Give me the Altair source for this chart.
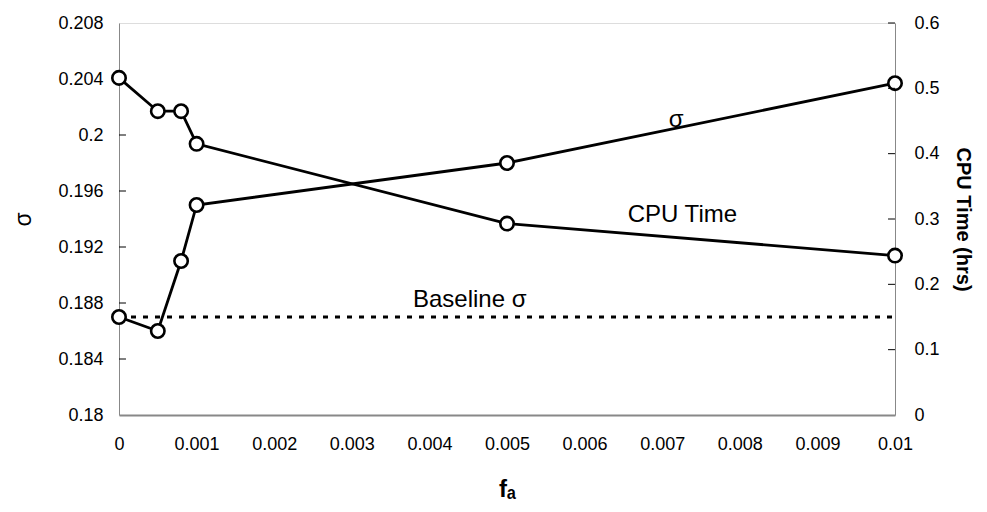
import altair as alt
import pandas as pd

# ---- data ----
fa = [0, 0.0005, 0.0008, 0.001, 0.005, 0.01]
sigma = [0.187, 0.186, 0.191, 0.195, 0.198, 0.2037]
cpu_hrs = [0.516, 0.465, 0.465, 0.415, 0.293, 0.244]

baseline_fa = [0, 0.01]
baseline_sigma = [0.187, 0.187]

x_ticks = [0, 0.001, 0.002, 0.003, 0.004, 0.005, 0.006, 0.007, 0.008, 0.009, 0.01]
sigma_ticks = [0.18, 0.184, 0.188, 0.192, 0.196, 0.2, 0.204, 0.208]
cpu_ticks = [0, 0.1, 0.2, 0.3, 0.4, 0.5, 0.6]

note_text = ["σ", "CPU Time", "Baseline σ"]
note_fa = [0.00718, 0.00726, 0.00452]
note_sigma = [0.2011, 0.1943, 0.1882]

FONT = "Liberation Sans"
TICK_LEN_X = 0.00009  # inward tick length in x units

df = pd.DataFrame({"fa": fa, "sigma": sigma, "cpu": cpu_hrs})
base_df = pd.DataFrame({"fa": baseline_fa, "sigma": baseline_sigma})
notes_df = pd.DataFrame({"fa": note_fa, "sigma": note_sigma, "t": note_text})
lt_df = pd.DataFrame({"v": sigma_ticks[1:-1], "x0": 0.0, "x1": TICK_LEN_X})
rt_df = pd.DataFrame({"v": cpu_ticks[1:], "x0": 0.01 - TICK_LEN_X, "x1": 0.01})

x_scale = alt.Scale(domain=[0, 0.01], nice=False, zero=False)
x_axis = alt.Axis(
    values=x_ticks, format=".3~f", title="fₐ", ticks=False, grid=False,
    labelPadding=20, titlePadding=24, domainWidth=2,
    labelFontSize=18, titleFontSize=24, titleFontWeight="bold",
    labelFlush=False,
)


def xe(field):
    return alt.X(f"{field}:Q", scale=x_scale, axis=x_axis)


y_left_scale = alt.Scale(domain=[0.18, 0.208], nice=False, zero=False)
y_left_axis = alt.Axis(
    values=sigma_ticks, format=".3~f", title="σ", ticks=False, grid=False,
    labelPadding=16, titlePadding=22, domainWidth=1,
    labelFontSize=18, titleFontSize=23, titleFontWeight="normal",
    labelFlush=False,
)


def yl(field):
    return alt.Y(f"{field}:Q", scale=y_left_scale, axis=y_left_axis)


sig_line = alt.Chart(df).mark_line(color="black", strokeWidth=2.8).encode(x=xe("fa"), y=yl("sigma"))
sig_pts = alt.Chart(df).mark_point(
    shape="circle", size=180, filled=True, fill="white", stroke="black", strokeWidth=2.6, opacity=1
).encode(x=xe("fa"), y=yl("sigma"))
base_line = alt.Chart(base_df).mark_line(
    color="black", strokeWidth=2.8, strokeDash=[5, 7]
).encode(x=xe("fa"), y=yl("sigma"))
notes = alt.Chart(notes_df).mark_text(
    font=FONT, fontSize=24, color="black", align="center", baseline="middle"
).encode(x=xe("fa"), y=yl("sigma"), text="t:N")
left_ticks = alt.Chart(lt_df).mark_rule(color="black", strokeWidth=1).encode(
    x=xe("x0"), x2="x1:Q", y=yl("v")
)

left = alt.layer(left_ticks, base_line, sig_line, sig_pts, notes)

y_right_scale = alt.Scale(domain=[0, 0.6], nice=False, zero=False)
y_right_axis = alt.Axis(
    orient="right", values=cpu_ticks, format=".1~f", title="CPU Time (hrs)", ticks=False, grid=False,
    labelPadding=19, titlePadding=13, domainWidth=1,
    labelFontSize=18, titleFontSize=20, titleFontWeight="bold",
    labelFlush=False,
)


def yr(field):
    return alt.Y(f"{field}:Q", scale=y_right_scale, axis=y_right_axis)


cpu_line = alt.Chart(df).mark_line(color="black", strokeWidth=2.8).encode(x=xe("fa"), y=yr("cpu"))
cpu_pts = alt.Chart(df).mark_point(
    shape="circle", size=180, filled=True, fill="white", stroke="black", strokeWidth=2.6, opacity=1
).encode(x=xe("fa"), y=yr("cpu"))
right_ticks = alt.Chart(rt_df).mark_rule(color="black", strokeWidth=1).encode(
    x=xe("x0"), x2="x1:Q", y=yr("v")
)

right = alt.layer(right_ticks, cpu_line, cpu_pts)

chart = (
    alt.layer(left, right)
    .resolve_scale(y="independent")
    .properties(width=776, height=392, padding={"left": 4, "top": 6, "right": 6, "bottom": 0})
    .configure_view(stroke=None)
    .configure_axis(
        labelFont=FONT, titleFont=FONT, labelColor="black", titleColor="black",
        domainColor="black", grid=False,
    )
    .configure(background="white")
)

chart.save("out.html", embed_options={"renderer": "svg", "actions": False})
